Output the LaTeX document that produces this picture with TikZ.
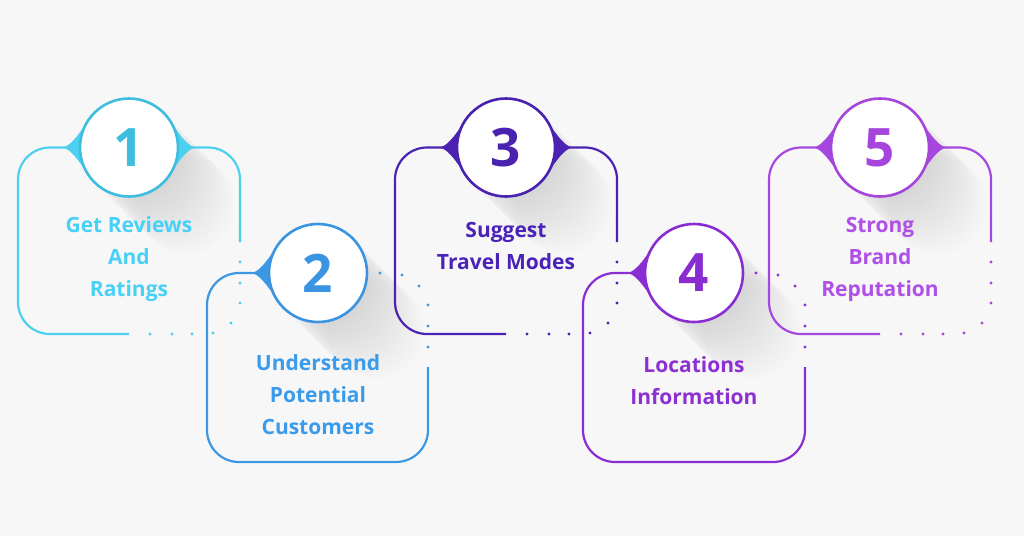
\documentclass[tikz,border=0pt]{standalone}
\usepackage{fontspec}
\setmainfont{Open Sans}
\usetikzlibrary{calc}
\definecolor{bg}{HTML}{F7F7F8}
\definecolor{b1}{HTML}{4DD0F0}\definecolor{n1}{HTML}{3DBEDF}\definecolor{t1}{HTML}{48D1F7}
\definecolor{b2}{HTML}{3D98E4}\definecolor{n2}{HTML}{3A94E2}\definecolor{t2}{HTML}{3A9BEA}
\definecolor{b3}{HTML}{4B22B2}\definecolor{n3}{HTML}{4A22B0}\definecolor{t3}{HTML}{4B22B8}
\definecolor{b4}{HTML}{8A2DD2}\definecolor{n4}{HTML}{8A2DD0}\definecolor{t4}{HTML}{8C30D2}
\definecolor{b5}{HTML}{A847DF}\definecolor{n5}{HTML}{A545DC}\definecolor{t5}{HTML}{B04FE8}
\newcommand\castshadow[1]{\foreach \k in {1,...,16}{\fill[black,opacity=0.009] ($(#1)+(\k*3.6,\k*3.6)$) circle (49pt);}}
\newcommand\fillet[3]{%
  \fill[#3] ($(#1)+(#2*-67,0)$) .. controls ($(#1)+(#2*-58,0)$) and ($(#1)+(#2*-45.8,-19.9)$) .. ($(#1)+(#2*-40.1,-28.1)$) -- (#1) -- ($(#1)+(#2*-40.1,28.1)$) .. controls ($(#1)+(#2*-45.8,19.9)$) and ($(#1)+(#2*-58,0)$) .. cycle;}
\newcommand\dotat[2]{\fill[#1] #2 circle (1.6pt);}
\tikzset{
  boxline/.style={line width=2.2pt, rounded corners=32pt},
  circ/.style={circle, minimum size=98pt, inner sep=0pt, fill=white, line width=2.6pt,
     font=\fontsize{53}{53}\selectfont\bfseries},
  txt/.style={align=center, font=\fontsize{21}{32}\selectfont\bfseries}
}
\begin{document}
\begin{tikzpicture}[x=1pt,y=-1pt]
\fill[bg] (0,0) rectangle (1024,536);
\useasboundingbox (0,0) rectangle (1024,536);
\coordinate (k1) at (129,147.5);
\coordinate (k2) at (318,273);
\coordinate (k3) at (506,147.5);
\coordinate (k4) at (694,273);
\coordinate (k5) at (880,147.5);
% shadows
\castshadow{k1}\castshadow{k2}\castshadow{k3}\castshadow{k4}\castshadow{k5}
% box 1
\draw[boxline, b1] (129,334) -- (18,334) -- (18,147.5) -- (240,147.5) -- (240,242);
\foreach \p in {(240,262),(240,283),(240,303),(231,323),(213,333),(192,334),(172,334),(150,334)} {\dotat{b1}{\p}}
% box 3
\draw[boxline, b3] (506,334) -- (395,334) -- (395,147.5) -- (617,147.5) -- (617,242);
\foreach \p in {(617,262),(617,283),(617,303),(608,323),(590,333),(569,334),(549,334),(527,334)} {\dotat{b3}{\p}}
% box 5
\draw[boxline, b5] (880,334) -- (769,334) -- (769,147.5) -- (991,147.5) -- (991,242);
\foreach \p in {(991,262),(991,283),(991,303),(982,323),(964,333),(943,334),(923,334),(901,334)} {\dotat{b5}{\p}}
% box 2
\draw[boxline, b2] (318,273) -- (207,273) -- (207,462) -- (428,462) -- (428,367);
\foreach \p in {(380,273),(402,275),(419,286),(428,305),(428,326),(428,347)} {\dotat{b2}{\p}}
% box 4
\draw[boxline, b4] (694,273) -- (583,273) -- (583,462) -- (805,462) -- (805,367);
\foreach \p in {(756,273),(778,275),(795,286),(805,305),(805,326),(805,347)} {\dotat{b4}{\p}}
% fillets
\fillet{k1}{1}{b1}\fillet{k1}{-1}{b1}
\fillet{k2}{1}{b2}
\fillet{k3}{1}{b3}\fillet{k3}{-1}{b3}
\fillet{k4}{1}{b4}
\fillet{k5}{1}{b5}\fillet{k5}{-1}{b5}
% circles
\node[circ, draw=n1, text=n1] (c1) at (k1) {1};
\node[circ, draw=n2, text=n2] (c2) at (k2) {2};
\node[circ, draw=n3, text=n3] (c3) at (k3) {3};
\node[circ, draw=n4, text=n4] (c4) at (k4) {4};
\node[circ, draw=n5, text=n5] (c5) at (k5) {5};
% labels
\node[txt, text=t1] (l1) at (129,259) {Get Reviews\\And\\Ratings};
\node[txt, text=t2] (l2) at (318,395) {Understand\\Potential\\Customers};
\node[txt, text=t3] (l3) at (506,246) {Suggest\\Travel Modes};
\node[txt, text=t4] (l4) at (694,381) {Locations\\Information};
\node[txt, text=t5] (l5) at (880,259) {Strong\\Brand\\Reputation};
\end{tikzpicture}
\end{document}
